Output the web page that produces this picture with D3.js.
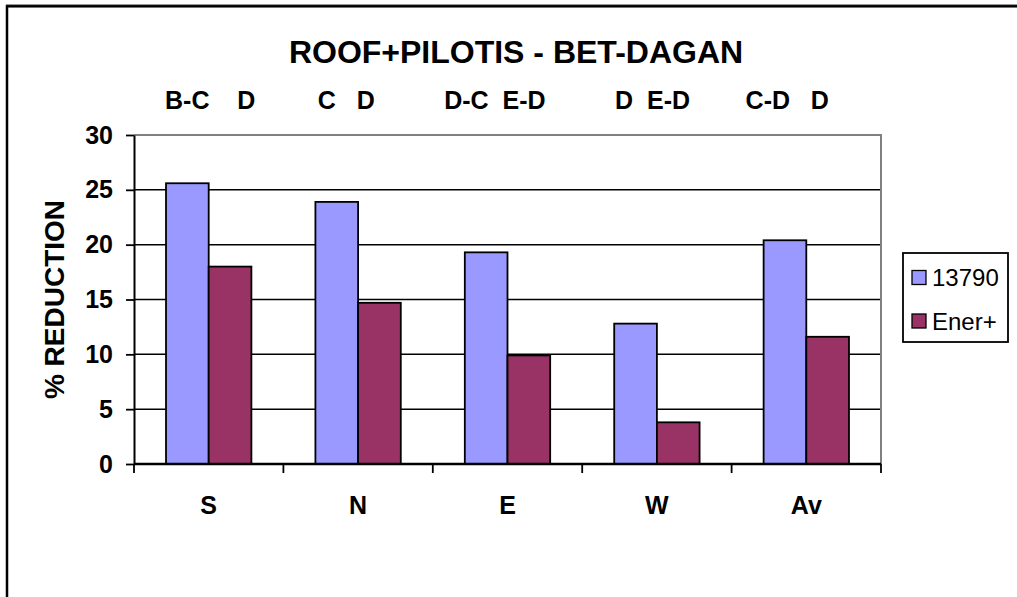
<!DOCTYPE html>
<html>
<head>
<meta charset="utf-8">
<script src="https://cdn.jsdelivr.net/npm/d3@7"></script>
<style>
  body { margin: 0; background: #fff; }
  svg { display: block; font-family: Arial, "Liberation Sans", sans-serif; }
</style>
</head>
<body>
<div id="chart"></div>
<script>
// data
var categories = ['S', 'N', 'E', 'W', 'Av'];
var series = ['13790', 'Ener+'];
var vals_13790 = [25.6, 23.9, 19.3, 12.8, 20.4];
var vals_ener = [18.0, 14.7, 9.9, 3.8, 11.6];
var grades_13790 = ['B-C', 'C', 'D-C', 'D', 'C-D'];
var grades_ener = ['D', 'D', 'E-D', 'E-D', 'D'];
var y_ticks = [0, 5, 10, 15, 20, 25, 30];
var colors = ['#9999FF', '#993366'];

var W = 1017, H = 597;
var Margin = {top: 135, right: 136, bottom: 133, left: 134};

var svg = d3.select('#chart').append('svg')
            .attr('width', W).attr('height', H);

// outer frame (right and bottom edges run off the picture)
svg.append('line').attr('x1', 6).attr('x2', W).attr('y1', 4.5).attr('y2', 4.5)
   .attr('stroke', '#999').attr('stroke-width', 1);
svg.append('rect').attr('x', 7).attr('y', 6.3).attr('width', W + 20).attr('height', H + 20)
   .attr('fill', 'none').attr('stroke', '#000').attr('stroke-width', 2.5);

var x0 = d3.scaleBand().domain(categories)
           .range([Margin.left, W - Margin.right]).padding(0);
var x1 = d3.scaleBand().domain(series)
           .range([0, x0.bandwidth()]).paddingInner(0).paddingOuter(0.75);
var y = d3.scaleLinear().domain([0, 30]).range([H - Margin.bottom, Margin.top]);

var plot = svg.append('g');

// gridlines
plot.selectAll('line.grid').data(y_ticks.filter(d => d > 0 && d < 30))
    .enter().append('line').attr('class', 'grid')
    .attr('x1', x0.range()[0]).attr('x2', x0.range()[1])
    .attr('y1', d => y(d)).attr('y2', d => y(d))
    .attr('stroke', '#000').attr('stroke-width', 1.5);

// plot area border top/right (grey)
plot.append('path')
    .attr('d', `M${x0.range()[0]},${y(30)}H${x0.range()[1]}V${y(0)}`)
    .attr('fill', 'none').attr('stroke', '#808080').attr('stroke-width', 2);

// bars
var rows = categories.map((c, i) => ({cat: c, v: [vals_13790[i], vals_ener[i]]}));
var groups = plot.selectAll('g.cat').data(rows).enter().append('g')
                 .attr('transform', d => `translate(${x0(d.cat)},0)`);
groups.selectAll('rect').data(d => d.v.map((v, j) => ({s: series[j], v: v, j: j})))
      .enter().append('rect')
      .attr('x', d => x1(d.s))
      .attr('y', d => y(d.v))
      .attr('width', x1.bandwidth())
      .attr('height', d => y(0) - y(d.v))
      .attr('fill', d => colors[d.j])
      .attr('stroke', '#000').attr('stroke-width', 1.8);

// y axis
var yAxis = svg.append('g').attr('transform', `translate(${x0.range()[0]},0)`)
               .call(d3.axisLeft(y).tickValues(y_ticks).tickSizeInner(8).tickSizeOuter(0).tickPadding(13));
yAxis.select('.domain').attr('stroke', '#000').attr('stroke-width', 2);
yAxis.selectAll('.tick line').attr('stroke', '#000').attr('stroke-width', 1.8);
yAxis.selectAll('.tick text').attr('font-size', 25).attr('font-weight', 'bold')
     .attr('font-family', 'Arial, "Liberation Sans", sans-serif').attr('fill', '#000');

// x axis: ticks between categories
var xAxis = svg.append('g');
xAxis.append('line').attr('x1', x0.range()[0]).attr('x2', x0.range()[1])
     .attr('y1', y(0)).attr('y2', y(0)).attr('stroke', '#000').attr('stroke-width', 2.5);
var bounds = categories.map(c => x0(c)).concat([x0.range()[1]]);
xAxis.selectAll('line.tk').data(bounds).enter().append('line').attr('class', 'tk')
     .attr('x1', d => d).attr('x2', d => d).attr('y1', y(0)).attr('y2', y(0) + 9)
     .attr('stroke', '#000').attr('stroke-width', 1.8);
xAxis.selectAll('text').data(categories).enter().append('text')
     .attr('x', d => x0(d) + x0.bandwidth() / 2).attr('y', y(0) + 50)
     .attr('text-anchor', 'middle').attr('font-size', 25).attr('font-weight', 'bold')
     .text(d => d);

// y axis title
svg.append('text').attr('transform', `translate(64,${(y(0) + y(30)) / 2}) rotate(-90)`)
   .attr('text-anchor', 'middle').attr('font-size', 28).attr('font-weight', 'bold')
   .text('% REDUCTION');

// title
svg.append('text').attr('x', 516).attr('y', 63).attr('text-anchor', 'middle')
   .attr('font-size', 32).attr('font-weight', 'bold')
   .text('ROOF+PILOTIS - BET-DAGAN');

// grade line under title (typed with spaces, as in the original title box)
var gaps = [4, 9, 3, 10, 2, 10, 2, 8, 3];
var parts = [];
categories.forEach((c, i) => { parts.push(grades_13790[i]); parts.push(grades_ener[i]); });
var line = parts.map((p, i) => p + (i < gaps.length ? ' '.repeat(gaps[i]) : '')).join('');
svg.append('text').attr('x', 165).attr('y', 109).attr('xml:space', 'preserve')
   .style('white-space', 'pre')
   .attr('font-size', 25).attr('font-weight', 'bold').text(line);

// legend
var lg = svg.append('g');
lg.append('rect').attr('x', 903).attr('y', 253).attr('width', 105).attr('height', 89)
  .attr('fill', '#fff').attr('stroke', '#000').attr('stroke-width', 1.8);
var li = lg.selectAll('g.li').data(series).enter().append('g')
           .attr('transform', (d, i) => `translate(912,${277.5 + i * 43.5})`);
li.append('rect').attr('x', 0).attr('y', -7).attr('width', 14).attr('height', 14)
  .attr('fill', (d, i) => colors[i]).attr('stroke', '#000').attr('stroke-width', 1.3);
li.append('text').attr('x', 20).attr('y', 8.6).attr('font-size', 24).text(d => d);
</script>
</body>
</html>
